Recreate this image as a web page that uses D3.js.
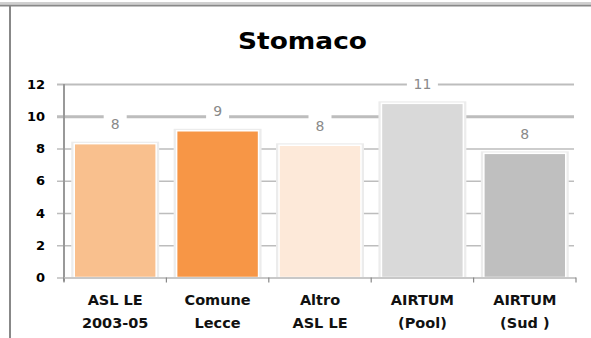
<!DOCTYPE html>
<html>
<head>
<meta charset="utf-8">
<script src="https://cdn.jsdelivr.net/npm/d3@7"></script>
<style>
  html, body { margin: 0; padding: 0; background: #fff; }
  svg { display: block; }
</style>
</head>
<body>
<svg id="chart" width="591" height="338"></svg>
<script>
// ---- data ----
const title = "Stomaco";
const categories = ["ASL LE\n2003-05", "Comune\nLecce", "Altro\nASL LE", "AIRTUM\n(Pool)", "AIRTUM\n(Sud )"];
const values = [8.3, 9.1, 8.2, 10.8, 7.7];
const barColors = ["#F9C08E", "#F79646", "#FDE9D9", "#D9D9D9", "#BFBFBF"];
const yTicks = [0, 2, 4, 6, 8, 10, 12];

// ---- layout ----
const svg = d3.select("#chart");
const W = 591, H = 338;
const plot = { left: 64, right: 576, top: 84, bottom: 277.5 };

// frame
svg.append("line").attr("x1", 0).attr("x2", W).attr("y1", 3).attr("y2", 3)
  .attr("stroke", "#a0a0a0").attr("stroke-width", 1);
svg.append("line").attr("x1", 0).attr("x2", W).attr("y1", 5.5).attr("y2", 5.5)
  .attr("stroke", "#888").attr("stroke-width", 2);
svg.append("line").attr("x1", 10).attr("x2", 10).attr("y1", 5).attr("y2", H)
  .attr("stroke", "#888").attr("stroke-width", 2);

// title
svg.append("text").attr("x", 302.5).attr("y", 48.5)
  .attr("text-anchor", "middle")
  .attr("font-family", "DejaVu Sans, Verdana, sans-serif")
  .attr("font-weight", "bold").attr("font-size", 23)
  .attr("textLength", 129).attr("lengthAdjust", "spacingAndGlyphs")
  .attr("fill", "#000").text(title);

// scales
const y = d3.scaleLinear().domain([0, 12]).range([plot.bottom, plot.top]);
const x = d3.scaleBand().domain(categories).range([plot.left, plot.right])
  .paddingInner(0.2).paddingOuter(0.1);

// gridlines + y tick labels
const yAxis = d3.axisLeft(y).tickValues(yTicks).tickSize(-(574 - 57)).tickPadding(12);
const gy = svg.append("g").attr("transform", "translate(57,0)").call(yAxis);
gy.select(".domain").remove();
gy.selectAll(".tick line")
  .attr("stroke", "#bdbdbd")
  .attr("stroke-width", d => d === 10 ? 3 : (d === 12 ? 2 : 1.6));
gy.selectAll(".tick text")
  .attr("font-family", "DejaVu Sans, Verdana, sans-serif")
  .attr("font-weight", "bold").attr("font-size", 13).attr("fill", "#000");

// y axis line
svg.append("line").attr("x1", plot.left).attr("x2", plot.left)
  .attr("y1", plot.top).attr("y2", plot.bottom + 4)
  .attr("stroke", "#999").attr("stroke-width", 2);

// bars
const bars = svg.append("g");
categories.forEach((c, i) => {
  const bx = x(c), bw = x.bandwidth(), by = y(values[i]);
  bars.append("rect")
    .attr("x", bx - 3).attr("y", by - 2)
    .attr("width", bw + 6).attr("height", plot.bottom - by + 2)
    .attr("fill", "#ececec");
  bars.append("rect")
    .attr("x", bx).attr("y", by)
    .attr("width", bw).attr("height", plot.bottom - by)
    .attr("fill", barColors[i])
    .attr("stroke", "#fff").attr("stroke-width", 1.5);
});

// x axis line and boundary ticks
svg.append("line").attr("x1", plot.left).attr("x2", plot.right)
  .attr("y1", plot.bottom + 0.5).attr("y2", plot.bottom + 0.5)
  .attr("stroke", "#c8c8c8").attr("stroke-width", 2);
const bounds = d3.range(categories.length + 1).map(i => plot.left + i * x.step());
svg.append("g").selectAll("line").data(bounds).join("line")
  .attr("x1", d => d).attr("x2", d => d)
  .attr("y1", plot.bottom).attr("y2", plot.bottom + 5)
  .attr("stroke", "#888").attr("stroke-width", 1.2);

// x labels
const xl = svg.append("g");
categories.forEach(c => {
  const t = xl.append("text")
    .attr("x", x(c) + x.bandwidth() / 2).attr("y", 305)
    .attr("text-anchor", "middle")
    .attr("font-family", "DejaVu Sans, Verdana, sans-serif")
    .attr("font-weight", "bold").attr("font-size", 14.5).attr("fill", "#111");
  c.split("\n").forEach((line, k) => {
    t.append("tspan").attr("x", x(c) + x.bandwidth() / 2)
      .attr("dy", k === 0 ? 0 : 23).text(line);
  });
});

// data labels with white boxes
const fmt = d3.format(".0f");
const lab = svg.append("g");
categories.forEach((c, i) => {
  const cx = x(c) + x.bandwidth() / 2;
  const cy = y(values[i]) - 19.5;
  const txt = fmt(values[i]);
  const bw = txt.length * 8 + 15;
  lab.append("rect").attr("x", cx - bw / 2).attr("y", cy - 11)
    .attr("width", bw).attr("height", 21).attr("fill", "#fff");
  lab.append("text").attr("x", cx).attr("y", cy + 5)
    .attr("text-anchor", "middle")
    .attr("font-family", "DejaVu Sans, Verdana, sans-serif")
    .attr("font-size", 14).attr("fill", "#8a8a8a").text(txt);
});
</script>
</body>
</html>
